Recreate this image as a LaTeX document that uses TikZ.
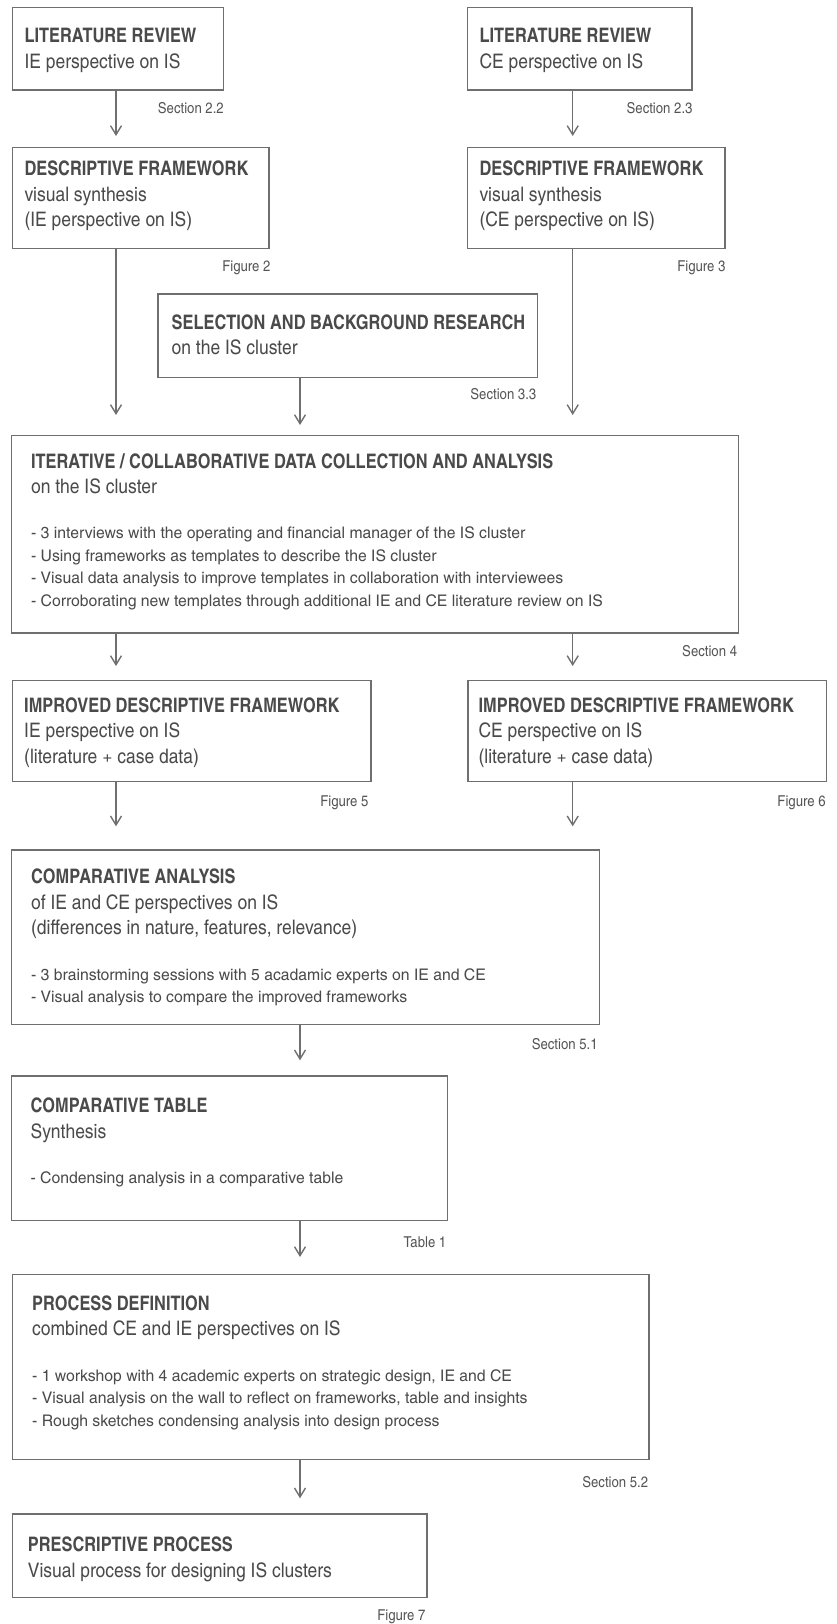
\documentclass[tikz,border=0pt]{standalone}
\usepackage{fontspec}
\usetikzlibrary{arrows.meta}
% condensed grotesque faces for the box texts and the references
\newfontfamily\ttlfont{texgyreheroscn-bold.otf}
\newfontfamily\subfont{texgyreheroscn-regular.otf}[FakeStretch=1.065]
\newfontfamily\itemfont{texgyreheroscn-regular.otf}[FakeStretch=1.2]
\newfontfamily\notefont{texgyreheroscn-regular.otf}[FakeStretch=1.07]
\definecolor{linegray}{HTML}{6F6F6F}
\definecolor{textgray}{HTML}{4A4A4A}
\definecolor{notegray}{HTML}{555555}
\tikzset{
  box/.style={draw=linegray, line width=1.4pt, rectangle, inner sep=0pt, anchor=north west},
  % base anchor of a multi-line node sits on its last line
  hdr/.style={anchor=base west, align=left, inner sep=0pt, text=textgray,
    font=\fontsize{20}{25.6}\selectfont\subfont},
  items/.style={anchor=base west, align=left, inner sep=0pt, text=textgray,
    font=\fontsize{16}{22.5}\selectfont\itemfont},
  note/.style={anchor=base east, inner sep=0pt, text=notegray,
    font=\fontsize{15}{17}\selectfont\notefont},
  flow/.style={draw=linegray, line width=1.4pt,
    -{Straight Barb[length=9pt, width=11pt, line width=1.4pt]}},
}
\begin{document}
\begin{tikzpicture}[x=1pt, y=-1pt]
\useasboundingbox (0,0) rectangle (836,1624);

% columns used by the vertical connectors
\coordinate (colL) at (116,0);
\coordinate (colM) at (300,0);
\coordinate (colR) at (572.7,0);

% boxes
\node[box, minimum width=211pt,   minimum height=82.6pt]  (lrie)  at (11.7,6.7)    {};
\node[box, minimum width=224.3pt, minimum height=82.6pt]  (lrce)  at (467,6.7)     {};
\node[box, minimum width=256.6pt, minimum height=101pt]   (dfie)  at (11.7,146.7)  {};
\node[box, minimum width=257.3pt, minimum height=101pt]   (dfce)  at (467,146.7)   {};
\node[box, minimum width=379.8pt, minimum height=83.4pt]  (sel)   at (157.2,293.3) {};
\node[box, minimum width=727.2pt, minimum height=197.3pt] (iter)  at (10.7,435)    {};
\node[box, minimum width=358.6pt, minimum height=100.7pt] (impie) at (11.7,680)    {};
\node[box, minimum width=358.6pt, minimum height=100.7pt] (impce) at (467.2,680)   {};
\node[box, minimum width=588.1pt, minimum height=174.7pt] (comp)  at (10.7,849.3)  {};
\node[box, minimum width=435.8pt, minimum height=144.7pt] (table) at (10.7,1075.3) {};
\node[box, minimum width=636.7pt, minimum height=184.7pt] (proc)  at (11.7,1274)   {};
\node[box, minimum width=414.5pt, minimum height=83.4pt]  (presc) at (11.7,1513.3) {};

% box texts (placed by the baseline of their last line)
\node[hdr] (lrie-h) at (24.3,68.3) {{\ttlfont LITERATURE REVIEW}\\IE perspective on IS};
\node[hdr] (lrce-h) at (479.3,68.3) {{\ttlfont LITERATURE REVIEW}\\CE perspective on IS};
\node[hdr] (dfie-h) at (24.3,226.9) {{\ttlfont DESCRIPTIVE FRAMEWORK}\\visual synthesis\\(IE perspective on IS)};
\node[hdr] (dfce-h) at (479.3,226.9) {{\ttlfont DESCRIPTIVE FRAMEWORK}\\visual synthesis\\(CE perspective on IS)};
\node[hdr] (sel-h) at (171.5,354.6) {{\ttlfont SELECTION AND BACKGROUND RESEARCH}\\on the IS cluster};
\node[hdr] (iter-h) at (30.9,493.9) {{\ttlfont ITERATIVE / COLLABORATIVE DATA COLLECTION AND ANALYSIS}\\on the IS cluster};
\node[items] (iter-b) at (30.9,606) {- 3 interviews with the operating and financial manager of the IS cluster\\
  - Using frameworks as templates to describe the IS cluster\\
  - Visual data analysis to improve templates in collaboration with interviewees\\
  - Corroborating new templates through additional IE and CE literature review on IS};
\node[hdr] (impie-h) at (24,763.5) {{\ttlfont IMPROVED DESCRIPTIVE FRAMEWORK}\\IE perspective on IS\\(literature + case data)};
\node[hdr] (impce-h) at (478.4,763.5) {{\ttlfont IMPROVED DESCRIPTIVE FRAMEWORK}\\CE perspective on IS\\(literature + case data)};
\node[hdr] (comp-h) at (30.9,934.8) {{\ttlfont COMPARATIVE ANALYSIS}\\of IE and CE perspectives on IS\\(differences in nature, features, relevance)};
\node[items] (comp-b) at (30.9,1002.7) {- 3 brainstorming sessions with 5 acadamic experts on IE and CE\\
  - Visual analysis to compare the improved frameworks};
\node[hdr] (table-h) at (30.4,1138.3) {{\ttlfont COMPARATIVE TABLE}\\Synthesis};
\node[items] (table-b) at (30.4,1183.3) {- Condensing analysis in a comparative table};
\node[hdr] (proc-h) at (32,1335.7) {{\ttlfont PROCESS DEFINITION}\\combined CE and IE perspectives on IS};
\node[items] (proc-b) at (32,1426.4) {- 1 workshop with 4 academic experts on strategic design, IE and CE\\
  - Visual analysis on the wall to reflect on frameworks, table and insights\\
  - Rough sketches condensing analysis into design process};
\node[hdr] (presc-h) at (27.7,1577.3) {{\ttlfont PRESCRIPTIVE PROCESS}\\Visual process for designing IS clusters};

% references printed under the boxes
\node[note] (n-lrie)  at (224,113.3)    {Section 2.2};
\node[note] (n-lrce)  at (692.7,113.3)  {Section 2.3};
\node[note] (n-dfie)  at (270.7,271.5)  {Figure 2};
\node[note] (n-dfce)  at (725.7,271.5)  {Figure 3};
\node[note] (n-sel)   at (536.5,399)    {Section 3.3};
\node[note] (n-iter)  at (737.3,656.7)  {Section 4};
\node[note] (n-impie) at (368.7,806)    {Figure 5};
\node[note] (n-impce) at (825.8,806)    {Figure 6};
\node[note] (n-comp)  at (597.8,1049.5) {Section 5.1};
\node[note] (n-table) at (446.5,1247)   {Table 1};
\node[note] (n-proc)  at (648.4,1487)   {Section 5.2};
\node[note] (n-presc) at (425.7,1620)   {Figure 7};

% connectors
\draw[flow, shorten >=10.7pt] (lrie.south -| colL) -- (dfie.north -| colL);
\draw[flow, shorten >=10.7pt] (lrce.south -| colR) -- (dfce.north -| colR);
\draw[flow, shorten >=20pt]   (dfie.south -| colL) -- (iter.north -| colL);
\draw[flow, shorten >=10pt]   (sel.south -| colM)  -- (iter.north -| colM);
\draw[flow, shorten >=20pt]   (dfce.south -| colR) -- (iter.north -| colR);
\draw[flow, shorten >=14pt]   (iter.south -| colL) -- (impie.north -| colL);
\draw[flow, shorten >=14pt]   (iter.south -| colR) -- (impce.north -| colR);
\draw[flow, shorten >=23pt]   (impie.south -| colL) -- (comp.north -| colL);
\draw[flow, shorten >=23pt]   (impce.south -| colR) -- (comp.north -| colR);
\draw[flow, shorten >=15pt]   (comp.south -| colM) -- (table.north -| colM);
\draw[flow, shorten >=17pt]   (table.south -| colM) -- (proc.north -| colM);
\draw[flow, shorten >=15pt]   (proc.south -| colM) -- (presc.north -| colM);
\end{tikzpicture}
\end{document}
